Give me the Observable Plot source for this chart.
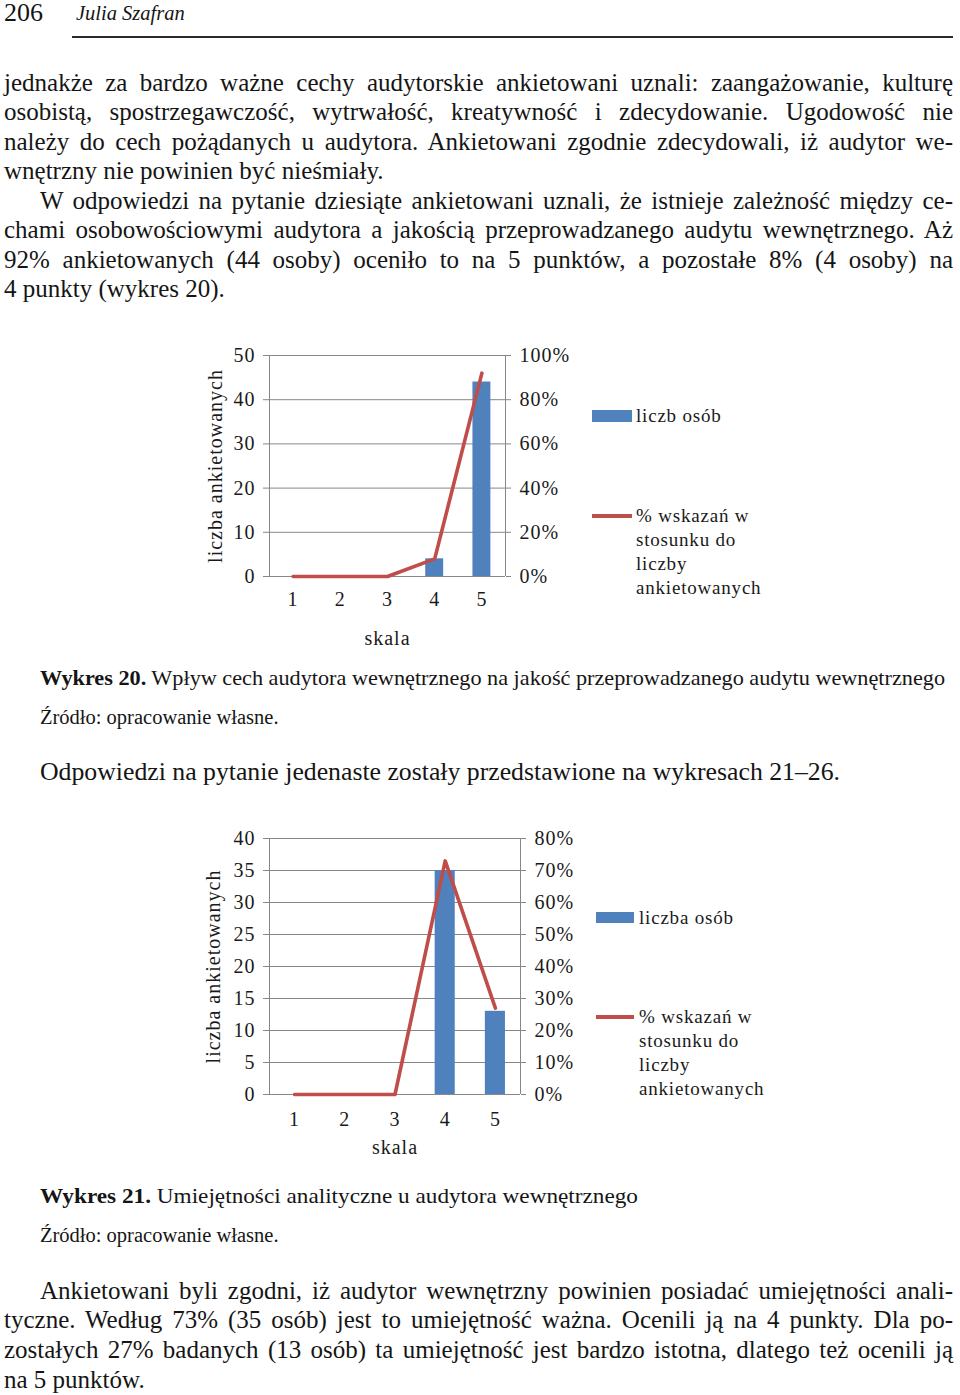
<!DOCTYPE html>
<html>
<head>
<meta charset="utf-8">
<script src="https://cdn.jsdelivr.net/npm/d3@7"></script>
<script src="https://cdn.jsdelivr.net/npm/@observablehq/plot@0.6"></script>
<style>
  html, body { margin: 0; padding: 0; background: #fff; }
  body { width: 960px; height: 1395px; position: relative; overflow: hidden;
         font-family: "Liberation Serif", "Times New Roman", serif; color: #151515; }
  .t { position: absolute; white-space: nowrap; line-height: 30px; transform-origin: 0 50%; }
  .body { font-size: 25px; }
  .cap { font-size: 22px; }
  .src { font-size: 20.5px; }
  .leg { position: absolute; font-size: 19px; letter-spacing: 0.8px; line-height: 24px; color: #1a1a1a; white-space: nowrap; }
  .chart { position: absolute; }
</style>
</head>
<body>
<script>
// ---------- data ----------
const skala = [1, 2, 3, 4, 5];
const liczba20 = [0, 0, 0, 4, 44];
const procent20 = [0, 0, 0, 8, 92];
const yTicks20 = [0, 10, 20, 30, 40, 50];
const pctLabels20 = ["0%", "20%", "40%", "60%", "80%", "100%"];

const liczba21 = [0, 0, 0, 35, 13];
const procent21 = [0, 0, 0, 73, 27];
const yTicks21 = [0, 5, 10, 15, 20, 25, 30, 35, 40];
const pctLabels21 = ["0%", "10%", "20%", "30%", "40%", "50%", "60%", "70%", "80%"];

const legend20 = ["liczb osób", "% wskazań w\nstosunku do\nliczby\nankietowanych"];
const legend21 = ["liczba osób", "% wskazań w\nstosunku do\nliczby\nankietowanych"];
const axisTitleY = "liczba ankietowanych";
const axisTitleX = "skala";

const BLUE = "#4F81BD", RED = "#BF4D4A", GRID = "#878787";

// ---------- helpers ----------
function addText(cls, html, x, yCenter, opts = {}) {
  const d = document.createElement("div");
  d.className = "t " + cls;
  d.innerHTML = html;
  d.style.left = x + "px";
  d.style.top = (yCenter - (opts.off ?? 16.4)) + "px";
  if (opts.style) Object.assign(d.style, opts.style);
  document.body.appendChild(d);
  if (opts.justifyTo) {
    const w = d.getBoundingClientRect().width;
    const spaces = (d.textContent.match(/ /g) || []).length;
    if (spaces) d.style.wordSpacing = ((opts.justifyTo - x - w) / spaces) + "px";
  }
  if (opts.fitTo) {
    const w = d.getBoundingClientRect().width;
    d.style.transform = `scaleX(${(opts.fitTo - x) / w})`;
  }
  return d;
}

function makeChart(counts, pcts, yTicks, pctLabels, pctFactor, cfg) {
  const data = skala.map((k, i) => ({k, n: counts[i], p: pcts[i]}));
  const yMax = yTicks[yTicks.length - 1];
  const svg = Plot.plot({
    width: cfg.width, height: cfg.height,
    marginLeft: cfg.ml, marginRight: cfg.mr, marginTop: cfg.mt, marginBottom: cfg.mb,
    x: {type: "linear", domain: [0.5, 5.5]},
    y: {domain: [0, yMax]},
    style: {fontFamily: "'Liberation Serif', 'Times New Roman', serif", fontSize: "20px",
            background: "transparent", color: "#1a1a1a", letterSpacing: "1px", overflow: "visible"},
    marks: [
      Plot.gridY(yTicks, {stroke: GRID, strokeOpacity: 1, strokeWidth: 1}),
      Plot.ruleX([0.5, 5.5], {stroke: GRID, strokeWidth: 1}),
      Plot.axisY(yTicks, {anchor: "left", tickSize: 6, tickPadding: 8, stroke: GRID, fill: "#1a1a1a", label: null}),
      Plot.axisY(yTicks, {anchor: "right", tickSize: 5, tickPadding: cfg.rpad, stroke: GRID, fill: "#1a1a1a", label: null,
        tickFormat: d => pctLabels[yTicks.indexOf(d)]}),
      Plot.axisX(skala, {anchor: "bottom", tickSize: 0, tickPadding: cfg.xpad, fill: "#1a1a1a", label: null, tickFormat: d => String(d)}),
      Plot.rectY(data, {x1: d => d.k - cfg.half, x2: d => d.k + cfg.half, y: "n", fill: BLUE}),
      Plot.lineY(data, {x: "k", y: d => d.p * pctFactor, stroke: RED, strokeWidth: 3.6}),
      Plot.text([axisTitleY], {frameAnchor: "left", textAnchor: "middle", rotate: -90, dx: -cfg.titleDx, fill: "#1a1a1a"}),
      Plot.text([axisTitleX], {frameAnchor: "bottom", dy: cfg.skalaDy, fill: "#1a1a1a"})
    ]
  });
  svg.classList.add("chart");
  svg.style.left = cfg.left + "px";
  svg.style.top = cfg.top + "px";
  document.body.appendChild(svg);
}

function addLegend(labels, sw, ln) {
  const s = document.createElement("div");
  Object.assign(s.style, {position: "absolute", left: sw.x + "px", top: sw.y + "px", width: sw.w + "px", height: sw.h + "px", background: BLUE});
  document.body.appendChild(s);
  const t1 = document.createElement("div");
  t1.className = "leg"; t1.textContent = labels[0];
  t1.style.left = sw.tx + "px"; t1.style.top = (sw.y + sw.h / 2 - 12) + "px";
  document.body.appendChild(t1);
  const l = document.createElement("div");
  Object.assign(l.style, {position: "absolute", left: ln.x + "px", top: (ln.y - 1.8) + "px", width: ln.w + "px", height: "3.6px", background: RED});
  document.body.appendChild(l);
  const t2 = document.createElement("div");
  t2.className = "leg"; t2.innerHTML = labels[1].split("\n").join("<br>");
  t2.style.left = ln.tx + "px"; t2.style.top = (ln.y - 12) + "px";
  document.body.appendChild(t2);
}

// ---------- header ----------
addText("", "206", 4, 13, {style: {fontSize: "26px", lineHeight: "26px"}, off: 13});
addText("", "<i>Julia Szafran</i>", 76, 13, {style: {fontSize: "20.5px", lineHeight: "26px"}, off: 13});
const rule = document.createElement("div");
Object.assign(rule.style, {position: "absolute", left: "72px", top: "36px", width: "881px", height: "2px", background: "#2a2a2a"});
document.body.appendChild(rule);

// ---------- body text ----------
const R = 953;
const para1 = [
  ["jednakże za bardzo ważne cechy audytorskie ankietowani uznali: zaangażowanie, kulturę", 4, true],
  ["osobistą, spostrzegawczość, wytrwałość, kreatywność i zdecydowanie. Ugodowość nie", 4, true],
  ["należy do cech pożądanych u audytora. Ankietowani zgodnie zdecydowali, iż audytor we-", 4, true],
  ["wnętrzny nie powinien być nieśmiały.", 4, false],
  ["W odpowiedzi na pytanie dziesiąte ankietowani uznali, że istnieje zależność między ce-", 40, true],
  ["chami osobowościowymi audytora a jakością przeprowadzanego audytu wewnętrznego. Aż", 4, true],
  ["92% ankietowanych (44 osoby) oceniło to na 5 punktów, a pozostałe 8% (4 osoby) na", 4, true],
  ["4 punkty (wykres 20).", 4, false]
];
para1.forEach(([txt, x, j], i) => addText("body", txt, x, 84 + i * 29.5, j ? {justifyTo: R} : {}));

addText("cap", "<b>Wykres 20.</b> Wpływ cech audytora wewnętrznego na jakość przeprowadzanego audytu wewnętrznego", 40, 679, {fitTo: 945});
addText("src", "Źródło: opracowanie własne.", 40, 717, {off: 15});
addText("body", "Odpowiedzi na pytanie jedenaste zostały przedstawione na wykresach 21–26.", 40, 773, {fitTo: 840});

addText("cap", "<b>Wykres 21.</b> Umiejętności analityczne u audytora wewnętrznego", 40, 1197, {fitTo: 638});
addText("src", "Źródło: opracowanie własne.", 40, 1235, {off: 15});

const para2 = [
  ["Ankietowani byli zgodni, iż audytor wewnętrzny powinien posiadać umiejętności anali-", 40, true],
  ["tyczne. Według 73% (35 osób) jest to umiejętność ważna. Ocenili ją na 4 punkty. Dla po-", 4, true],
  ["zostałych 27% badanych (13 osób) ta umiejętność jest bardzo istotna, dlatego też ocenili ją", 4, true],
  ["na 5 punktów.", 4, false]
];
para2.forEach(([txt, x, j], i) => addText("body", txt, x, 1292 + i * 29.7, j ? {justifyTo: R} : {}));

// ---------- charts ----------
makeChart(liczba20, procent20, yTicks20, pctLabels20, 0.5, {
  left: 195, top: 340, width: 380, height: 315, ml: 74, mr: 70, mt: 15, mb: 79,
  half: 0.19, rpad: 9, xpad: 15, titleDx: 54, skalaDy: 68
});
addLegend(legend20, {x: 592, y: 410, w: 40, h: 12, tx: 636}, {x: 592, y: 516, w: 40, tx: 636});

makeChart(liczba21, procent21, yTicks21, pctLabels21, 0.5, {
  left: 195, top: 825, width: 400, height: 335, ml: 74, mr: 75, mt: 13, mb: 66,
  half: 0.2, rpad: 9, xpad: 17, titleDx: 56, skalaDy: 59
});
addLegend(legend21, {x: 596, y: 912, w: 38, h: 11, tx: 639}, {x: 596, y: 1017, w: 38, tx: 639});
</script>
</body>
</html>
